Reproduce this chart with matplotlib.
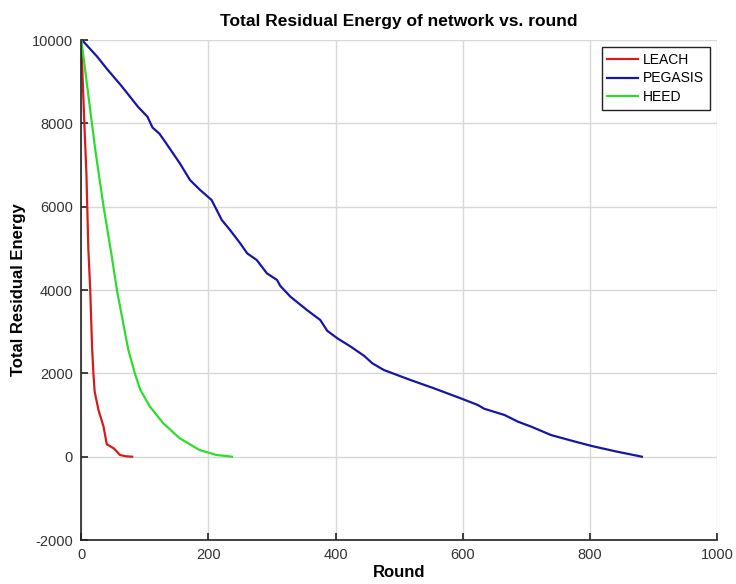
import matplotlib
matplotlib.use("Agg")
import matplotlib.pyplot as plt

# residual energy per round, read from simulation runs
leach_round = [0, 2, 5, 8, 11, 14, 17, 19, 21, 27, 35, 40, 51, 61, 70, 80]
leach_energy = [10000, 9100, 7900, 6800, 5000, 4000, 2600, 2000, 1560, 1120, 720, 300, 200, 40, 10, 0]

pegasis_round = [0, 2, 25, 40, 63, 89, 104, 112, 123, 134, 155, 171, 187, 205, 213, 221,
                 234, 250, 261, 276, 292, 308, 313, 329, 355, 376, 387, 403, 424, 445,
                 458, 476, 518, 555, 597, 624, 634, 666, 687, 708, 739, 770, 803, 840, 882]
pegasis_energy = [10000, 9984, 9600, 9312, 8900, 8400, 8160, 7900, 7750, 7510, 7040, 6640,
                  6400, 6160, 5920, 5680, 5440, 5120, 4880, 4720, 4400, 4240, 4100, 3840,
                  3520, 3280, 3020, 2840, 2640, 2420, 2240, 2080, 1840, 1640, 1400, 1240,
                  1150, 1000, 840, 720, 520, 390, 257, 130, 0]

heed_round = [0, 22, 35, 48, 56, 66, 74, 85, 93, 108, 129, 155, 186, 213, 237]
heed_energy = [10000, 7360, 6000, 4800, 4000, 3200, 2560, 1960, 1600, 1200, 800, 440, 160, 40, 0]

x_ticks = [0, 200, 400, 600, 800, 1000]
y_ticks = [-2000, 0, 2000, 4000, 6000, 8000, 10000]

plt.rcParams["font.family"] = ["Liberation Sans", "DejaVu Sans"]
plt.rcParams["axes.unicode_minus"] = False

fig = plt.figure(figsize=(7.36, 5.84), dpi=100)
ax = fig.add_axes([0.1105, 0.0753, 0.8635, 0.8562])

ax.plot(leach_round, leach_energy, color="#d41c1c", lw=1.6, label="LEACH")
ax.plot(pegasis_round, pegasis_energy, color="#1616a6", lw=1.6, label="PEGASIS")
ax.plot(heed_round, heed_energy, color="#2edc2e", lw=1.6, label="HEED")

ax.set_xlim(0, 1000)
ax.set_ylim(-2000, 10000)
ax.set_xticks(x_ticks)
ax.set_yticks(y_ticks)
ax.grid(True, color="#d8d8d8", lw=1.0)
ax.set_axisbelow(True)

for side in ("top", "right"):
    ax.spines[side].set_visible(False)
for side in ("left", "bottom"):
    ax.spines[side].set_color("#222222")
    ax.spines[side].set_linewidth(1.2)

ax.tick_params(direction="in", length=5, width=1.2, colors="#222222",
               labelcolor="#333333", labelsize=10.5, pad=6)

ax.set_title("Total Residual Energy of network vs. round", fontsize=12.5,
             fontweight="bold", pad=10)
ax.set_xlabel("Round", fontsize=12, fontweight="bold", labelpad=2)
ax.set_ylabel("Total Residual Energy", fontsize=12, fontweight="bold", labelpad=4)

leg = ax.legend(loc="upper right", fontsize=10, fancybox=False, framealpha=1,
                edgecolor="#222222", handlelength=2.2, borderpad=0.4,
                labelspacing=0.35, handletextpad=0.4, borderaxespad=0.5)
leg.get_frame().set_linewidth(1.0)

fig.savefig("out.png", dpi=100)
